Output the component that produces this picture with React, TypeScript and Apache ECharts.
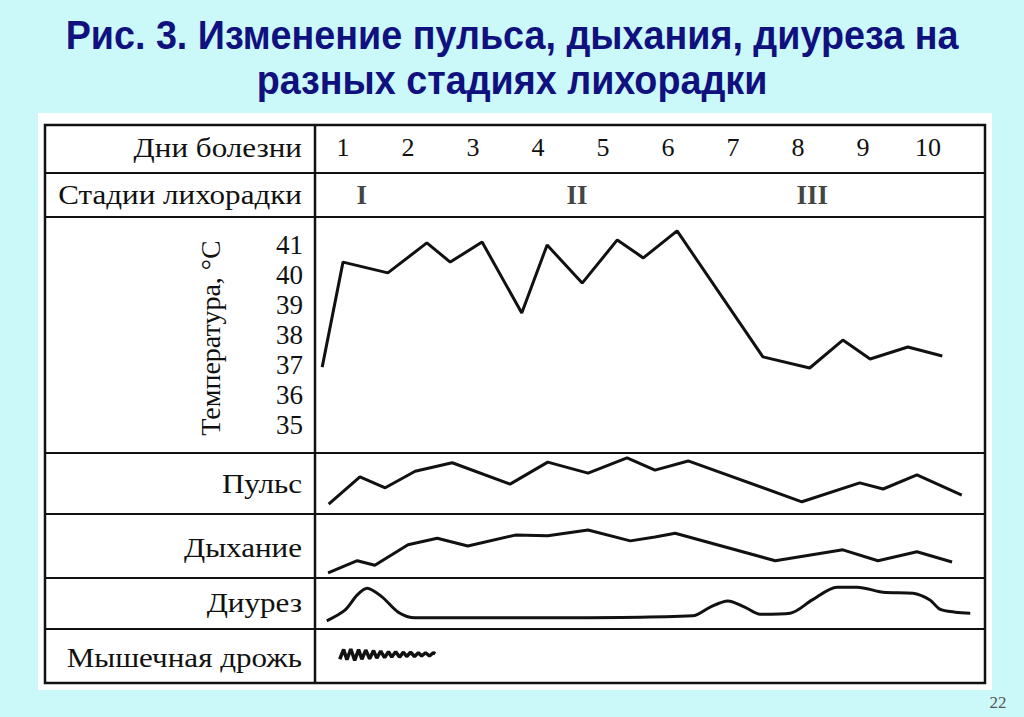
import React, { useEffect, useRef } from "react";
import * as echarts from "echarts";

// ---- data ----
const dayLabels = ["1", "2", "3", "4", "5", "6", "7", "8", "9", "10"];
const stageNames = ["I", "II", "III"];
const stageDays = [1.29, 4.6, 8.22];

const tempDays = [0.68, 1.0, 1.69, 2.29, 2.65, 3.14, 3.75, 4.14, 4.68, 5.22, 5.62, 6.14, 7.46, 8.18, 8.69, 9.11, 9.69, 10.22];
const tempValues = [36.93, 40.43, 40.07, 41.07, 40.43, 41.1, 38.73, 41.0, 39.73, 41.17, 40.57, 41.47, 37.27, 36.9, 37.83, 37.2, 37.6, 37.3];

// relative scales (0-100 of the row height)
const pulseDays = [0.78, 1.26, 1.65, 2.11, 2.68, 3.57, 4.15, 4.77, 5.37, 5.8, 6.31, 8.06, 8.95, 9.31, 9.83, 10.52];
const pulseValues = [16, 61, 43, 70, 84, 49, 85, 67, 92, 72, 87, 20, 51, 41, 64, 31];

const respDays = [0.77, 1.22, 1.49, 2.0, 2.45, 2.92, 3.65, 4.15, 4.77, 5.42, 5.8, 6.11, 7.65, 8.69, 9.23, 9.83, 10.37];
const respValues = [8, 27, 20, 52, 62, 50, 67, 66, 75, 58, 64, 70, 27, 44, 27, 41, 25];

const diurDays = [0.75, 1.03, 1.22, 1.37, 1.6, 1.85, 2.11, 4.0, 6.38, 6.65, 6.92, 7.18, 7.42, 7.88, 8.22, 8.6, 8.91, 9.31, 9.77, 10.03, 10.18, 10.42, 10.65];
const diurValues = [16, 37, 67, 80, 63, 33, 22, 22, 26, 43, 55, 43, 29, 31, 57, 82, 82, 72, 70, 57, 39, 33, 31];

const tremorDays = [0.95, 1.01, 1.06, 1.12, 1.18, 1.24, 1.29, 1.35, 1.41, 1.47, 1.52, 1.58, 1.64, 1.7, 1.75, 1.81, 1.87, 1.93, 1.98, 2.04, 2.1, 2.16, 2.21, 2.27, 2.33, 2.39, 2.42];
const tremorValues = [44, 62, 43, 63, 42, 62, 44, 61, 45, 60, 46, 59, 47, 58, 48, 58, 48, 57, 49, 57, 49, 56, 50, 56, 50, 56, 54];

const rowLabels = ["Дни болезни", "Стадии лихорадки", "Пульс", "Дыхание", "Диурез", "Мышечная дрожь"];
const titleLines = ["Рис. 3. Изменение пульса, дыхания, диуреза на", "разных стадиях лихорадки"];
const tempAxisTitle = "Температура, °C";
const pageNumber = "22";

const pair = (xs: number[], ys: number[]) => xs.map((x, i) => [x, ys[i]]);

const SERIF = "'Liberation Serif', 'DejaVu Serif', serif";
const INK = "#111";

export default function App() {
  const ref = useRef<HTMLDivElement>(null);
  useEffect(() => {
    if (!ref.current) return;
    const chart = echarts.init(ref.current, null, { renderer: "svg" });

    const L = 278, W = 715;
    const grids = [
      { top: 125, height: 48 }, // days
      { top: 173, height: 44 }, // stages
      { top: 245, height: 180 }, // temperature
      { top: 453, height: 61 }, // pulse
      { top: 514, height: 64 }, // respiration
      { top: 578, height: 51 }, // diuresis
      { top: 629, height: 54 }, // tremor
    ].map((g) => ({ left: L, width: W, ...g }));

    const xAxes = grids.map((_, i) => ({
      gridIndex: i,
      type: "value",
      min: 0,
      max: 11,
      interval: 1,
      show: i === 0,
      position: "top",
      axisLine: { show: false },
      axisTick: { show: false },
      splitLine: { show: false },
      axisLabel: {
        inside: true,
        margin: 9,
        fontSize: 26,
        fontFamily: SERIF,
        color: INK,
        formatter: (v: number) => (v >= 1 && v <= 10 ? dayLabels[v - 1] : ""),
      },
    }));

    const yAxes = grids.map((_, i) => {
      if (i === 2) {
        return {
          gridIndex: i,
          type: "value",
          min: 35,
          max: 41,
          interval: 1,
          offset: -25,
          axisLine: { show: false },
          axisTick: { show: false },
          splitLine: { show: false },
          axisLabel: { margin: 0, fontSize: 27, fontFamily: SERIF, color: INK },
        };
      }
      return { gridIndex: i, type: "value", min: 0, max: 100, show: false, splitLine: { show: false } };
    });

    const lineBase = {
      type: "line",
      symbol: "none",
      clip: false,
      lineStyle: { color: INK, width: 3 },
      silent: true,
    };

    const series: any[] = [
      {
        type: "scatter",
        xAxisIndex: 1,
        yAxisIndex: 1,
        symbolSize: 0,
        data: stageNames.map((n, i) => ({ name: n, value: [stageDays[i], 50] })),
        label: {
          show: true,
          position: "inside",
          formatter: (p: any) => p.name,
          fontSize: 27,
          fontWeight: "bold",
          fontFamily: SERIF,
          color: INK,
        },
      },
      { ...lineBase, xAxisIndex: 2, yAxisIndex: 2, data: pair(tempDays, tempValues) },
      { ...lineBase, xAxisIndex: 3, yAxisIndex: 3, data: pair(pulseDays, pulseValues) },
      { ...lineBase, xAxisIndex: 4, yAxisIndex: 4, data: pair(respDays, respValues) },
      { ...lineBase, xAxisIndex: 5, yAxisIndex: 5, smooth: 0.3, data: pair(diurDays, diurValues) },
      { ...lineBase, xAxisIndex: 6, yAxisIndex: 6, lineStyle: { color: INK, width: 3.5 }, data: pair(tremorDays, tremorValues) },
    ];

    const hLines = [173, 217, 453, 514, 578, 629].map((y) => ({
      type: "line",
      z: 1,
      shape: { x1: 45, y1: y, x2: 985, y2: y },
      style: { stroke: INK, lineWidth: 2 },
    }));
    const labelY = [148, 195, 484, 548, 603, 658];
    const labels = rowLabels.map((t, i) => ({
      type: "text",
      z: 5,
      x: 302,
      y: labelY[i],
      scaleX: 1.11,
      style: { text: t, fontSize: 28, fontFamily: SERIF, fill: INK, align: "right", verticalAlign: "middle" },
    }));

    chart.setOption({
      animation: false,
      backgroundColor: "#cbf8f8",
      grid: grids,
      xAxis: xAxes,
      yAxis: yAxes,
      series,
      graphic: [
        { type: "rect", z: -1, shape: { x: 38, y: 113, width: 954, height: 577 }, style: { fill: "#fff" } },
        { type: "rect", z: 1, shape: { x: 45, y: 125, width: 940, height: 558 }, style: { fill: "none", stroke: INK, lineWidth: 2.5 } },
        { type: "line", z: 1, shape: { x1: 315, y1: 125, x2: 315, y2: 683 }, style: { stroke: INK, lineWidth: 2.5 } },
        ...hLines,
        ...labels,
        {
          type: "text",
          z: 5,
          x: 210,
          y: 338,
          rotation: Math.PI / 2,
          style: { text: tempAxisTitle, fontSize: 28, fontFamily: SERIF, fill: INK, align: "center", verticalAlign: "middle" },
        },
        ...titleLines.map((t, i) => ({
          type: "text",
          z: 5,
          x: 512,
          y: i === 0 ? 34 : 79,
          scaleX: 0.92,
          style: {
            text: t,
            fontSize: 41,
            fontWeight: "bold",
            fontFamily: "'Liberation Sans', Arial, sans-serif",
            fill: "#10107f",
            align: "center",
            verticalAlign: "middle",
            shadowColor: "rgba(80,80,80,0.6)",
            shadowOffsetX: 2,
            shadowOffsetY: 2,
            shadowBlur: 2,
          },
        })),
        {
          type: "text",
          z: 5,
          x: 998,
          y: 702,
          style: { text: pageNumber, fontSize: 17, fontFamily: SERIF, fill: "#555", align: "center", verticalAlign: "middle" },
        },
      ],
    });
    return () => chart.dispose();
  }, []);
  return <div ref={ref} style={{ position: "fixed", left: 0, top: 0, width: 1024, height: 717 }} />;
}
